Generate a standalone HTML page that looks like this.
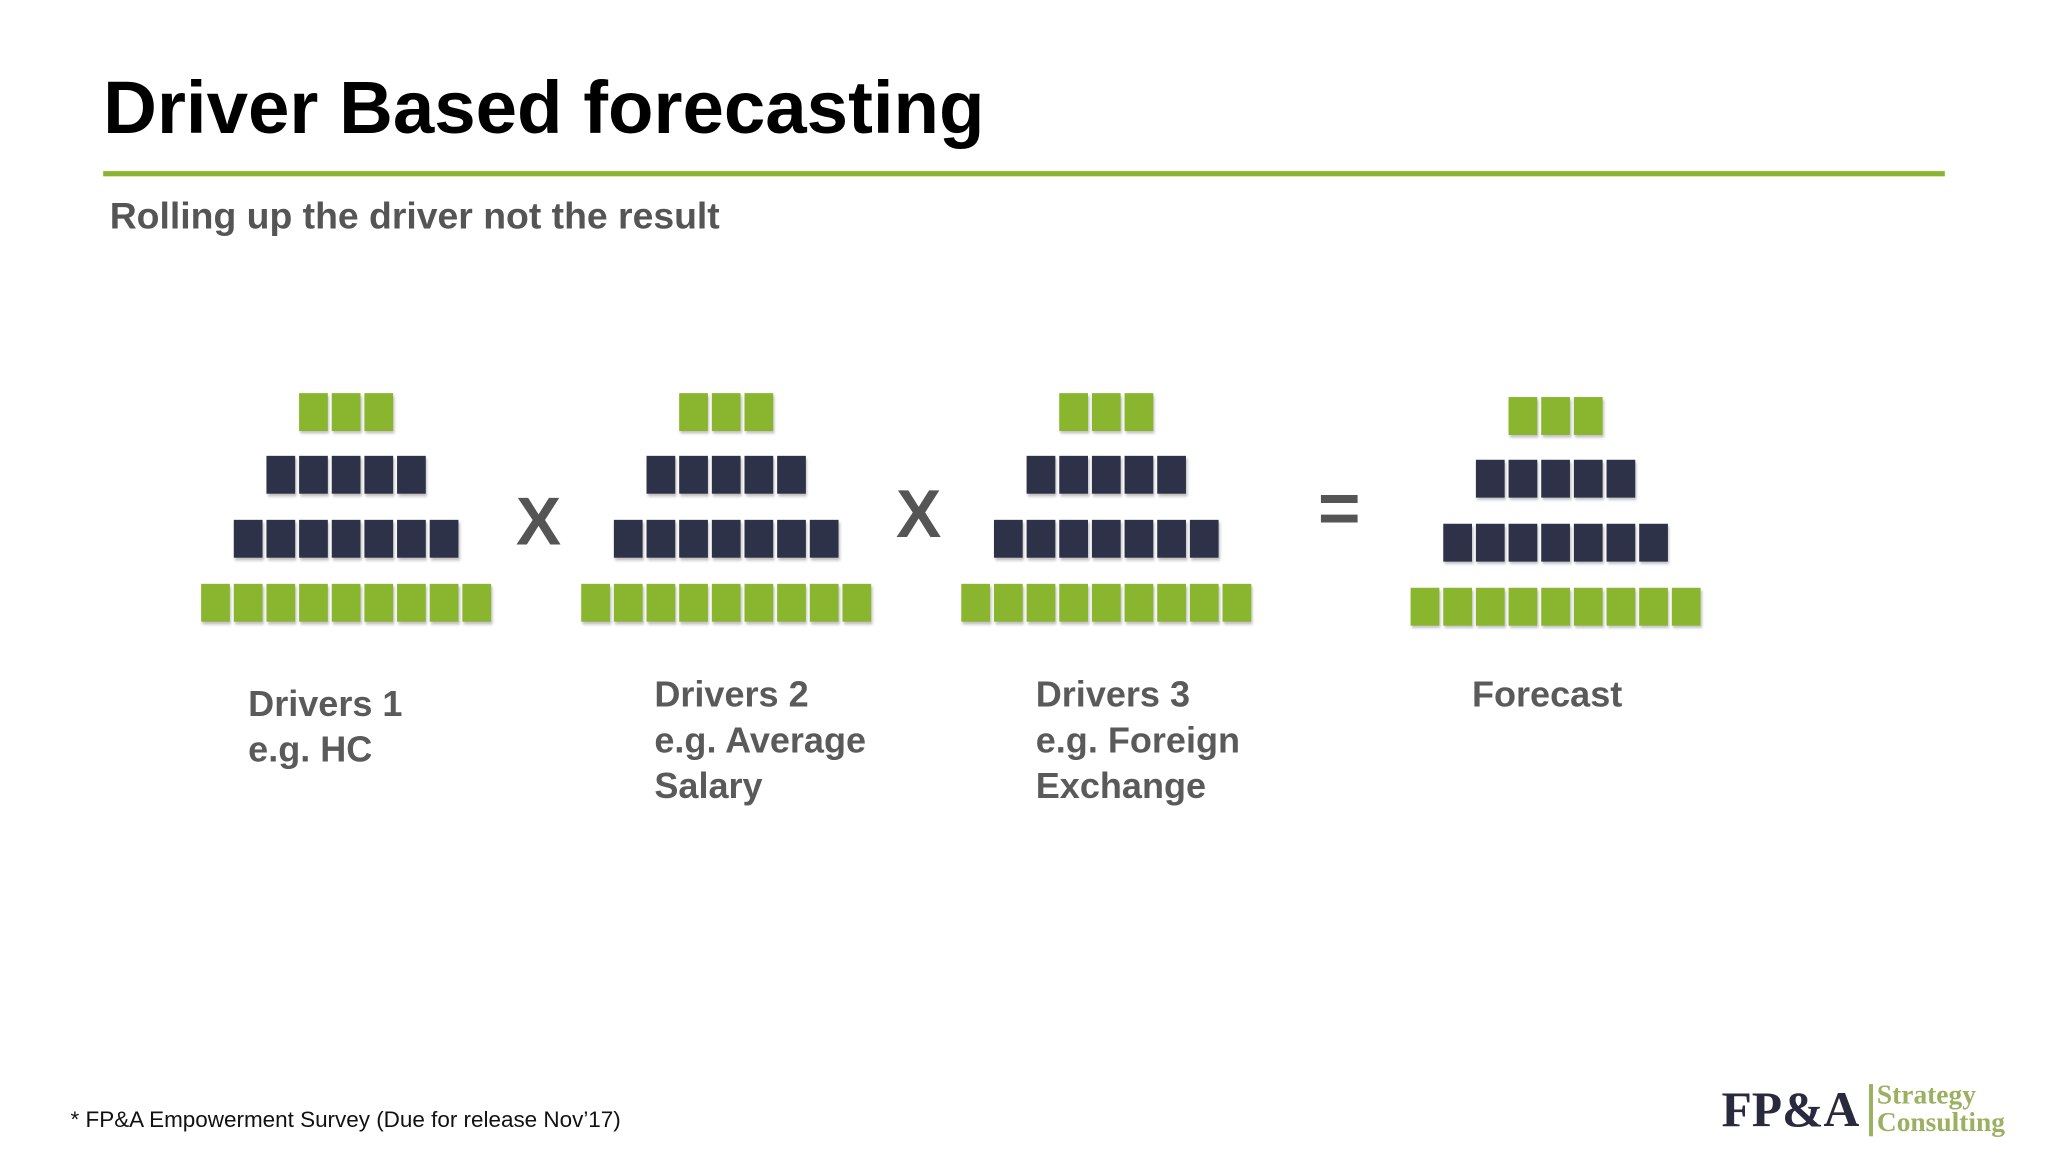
<!DOCTYPE html>
<html><head><meta charset="utf-8"><style>
html,body{margin:0;padding:0;background:#fff;overflow:hidden}
#wrap{position:absolute;left:0;top:0;width:1568px;height:882px;transform:scale(1.306122);transform-origin:0 0;font-family:"Liberation Sans",sans-serif}
.t{position:absolute;white-space:nowrap}
.sq{position:absolute;width:22px;height:29px;box-shadow:1px 2px 2px rgba(0,0,0,0.25)}
.lbl{position:absolute;font-weight:bold;font-size:27.6px;line-height:35px;color:#5a5a5a;white-space:nowrap}
</style></head><body>
<div id="wrap">
<div class="t" style="left:79px;top:50px;font-size:57px;font-weight:bold;color:#000">Driver Based forecasting</div>
<div style="position:absolute;left:79px;top:131px;width:1410px;height:4px;background:#8ab52e"></div>
<div class="t" style="left:84px;top:150px;font-size:28.6px;font-weight:bold;color:#555">Rolling up the driver not the result</div>
<div id="groups"></div>
<div class="t" style="left:395px;top:370px;font-size:52px;font-weight:bold;color:#555">X</div>
<div class="t" style="left:686px;top:364px;font-size:52px;font-weight:bold;color:#555">X</div>
<div class="t" style="left:1009px;top:356px;font-size:56px;font-weight:bold;color:#555">=</div>
<div class="lbl" style="left:190px;top:521px">Drivers 1<br>e.g. HC</div>
<div class="lbl" style="left:501px;top:514px">Drivers 2<br>e.g. Average<br>Salary</div>
<div class="lbl" style="left:793px;top:514px">Drivers 3<br>e.g. Foreign<br>Exchange</div>
<div class="lbl" style="left:1127px;top:514px">Forecast</div>
<div class="t" style="left:54px;top:847px;font-size:17.2px;color:#111">* FP&amp;A Empowerment Survey (Due for release Nov’17)</div>
<div class="t" style="left:1318px;top:828px;height:44px">
<span style="font-family:'Liberation Serif',serif;font-weight:bold;font-size:38px;color:#2a2a3e;position:absolute;left:0;top:0">FP&amp;A</span>
<span style="position:absolute;left:113px;top:2px;width:3px;height:40px;background:#9bb060"></span>
<span style="font-family:'Liberation Serif',serif;font-weight:bold;font-size:21px;color:#9bb060;position:absolute;left:119px;top:0;line-height:21px">Strategy<br>Consulting</span>
</div>
</div>
<script>
const groupNames=['drivers-1','drivers-2','drivers-3','forecast'];
const groupCenters=[264.5,556,847,1191];
const groupOffsets=[0,0,0,3];
const rowCounts=[3,5,7,9];
const rowColors=['#8ab52e','#2e3248','#2e3248','#8ab52e'];
const rowTops=[301,349,398,447];
const g=document.getElementById('groups');
groupNames.forEach((n,gi)=>{
  rowCounts.forEach((c,ri)=>{
    const x0=groupCenters[gi]-(c*25-3)/2;
    for(let i=0;i<c;i++){
      const d=document.createElement('div');
      d.className='sq';
      
      
      d.style.left=(x0+i*25)+'px';
      d.style.top=(rowTops[ri]+groupOffsets[gi])+'px';
      d.style.background=rowColors[ri];
      g.appendChild(d);
    }
  });
});
</script>
</body></html>
